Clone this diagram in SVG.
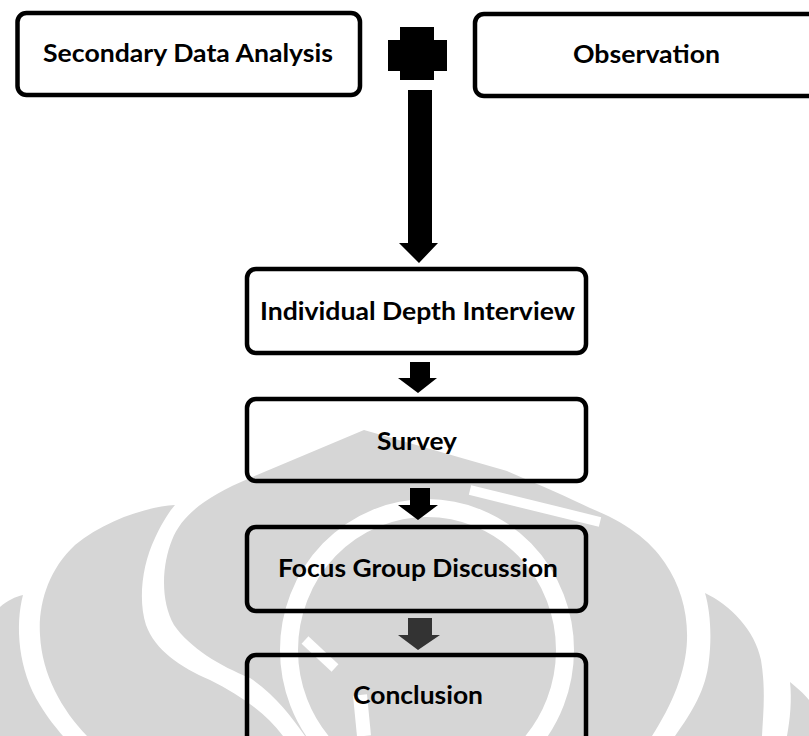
<svg xmlns="http://www.w3.org/2000/svg" width="809" height="736" viewBox="0 0 809 736">
<style>
.wm{fill:#d6d6d6;stroke:none}
.gap{fill:none;stroke:#ffffff}
.box{fill:none;stroke:#000;stroke-width:4.5}
.lbl{font-family:Lato,"Open Sans","Liberation Sans",sans-serif;font-weight:bold;font-size:24px;fill:#000;text-anchor:middle}
.arr{fill:#000}
</style>
<rect width="809" height="736" fill="#fff"/>
<g id="watermark">
<path class="wm" d="M0,607 C8,600 15,597 23,595 C15,625 18,670 40,705 C48,718 56,728 63,736 L0,736 Z"/>
<path class="wm" d="M175,505 C150,506 105,520 75,545 C48,570 38,605 40,635 C42,675 62,710 87,736 L283,736 C265,712 240,695 210,680 C180,667 155,650 146,625 C138,600 142,565 155,538 C161,525 168,513 175,505 Z"/>
<path class="wm" d="M364,430 L507,471 C540,485 570,498 590,508 C625,522 650,540 665,563 C680,585 688,612 687,640 C686,672 672,705 652,736 L305,736 C290,715 275,695 250,678 C220,666 190,648 174,625 C160,600 162,565 172,540 C182,515 205,497 250,478 Z"/>
<path class="wm" d="M705,593 C730,605 755,630 761,660 C766,690 763,715 762,736 L675,736 C692,712 706,690 709,660 C712,635 710,610 705,593 Z"/>
<path class="wm" d="M790,682 C800,690 806,696 809,700 L809,736 L787,736 C790,720 792,700 790,682 Z"/>
<ellipse class="gap" cx="427" cy="650" rx="138" ry="142" stroke-width="18"/>
<path class="gap" d="M470,490 L600,522" stroke-width="10"/>
<path class="gap" d="M360,695 L364,736" stroke-width="14"/>
<path class="gap" d="M305,640 L335,668" stroke-width="10"/>
</g>
<g id="connectors">
<path class="arr" d="M388,40 H400 V27 H434 V40 H447 V71 H434 V80 H400 V71 H388 Z"/>
<path class="arr" d="M408,90 H432 V243 H438 L419,263 L399,243 H408 Z"/>
<path class="arr" d="M410,362 H430 V378 H437 L418,393 L398,378 H410 Z"/>
<path class="arr" d="M410,488 H430 V505 H438 L418,520 L398,505 H410 Z"/>
<path d="M408,618 H432 V635 H440 L418,650 L398,635 H408 Z" fill="#333"/>
</g>
<g id="node-secondary">
<rect class="box" x="17.5" y="13" width="342.5" height="82" rx="9"/>
<text class="lbl" x="188" y="62" textLength="290" lengthAdjust="spacingAndGlyphs">Secondary Data Analysis</text>
</g>
<g id="node-observation">
<rect class="box" x="475" y="14" width="360" height="82" rx="9"/>
<text class="lbl" x="646.5" y="63" textLength="147" lengthAdjust="spacingAndGlyphs">Observation</text>
</g>
<g id="node-idi">
<rect class="box" x="247" y="269" width="339" height="84" rx="9"/>
<text class="lbl" x="417.5" y="320" textLength="315" lengthAdjust="spacingAndGlyphs">Individual Depth Interview</text>
</g>
<g id="node-survey">
<rect class="box" x="247" y="399" width="339" height="82" rx="9"/>
<text class="lbl" x="417" y="450" textLength="80" lengthAdjust="spacingAndGlyphs">Survey</text>
</g>
<g id="node-fgd">
<rect class="box" x="247" y="527" width="339" height="84" rx="9"/>
<text class="lbl" x="418" y="577" textLength="280" lengthAdjust="spacingAndGlyphs">Focus Group Discussion</text>
</g>
<g id="node-conclusion">
<rect class="box" x="247" y="655" width="339" height="110" rx="9"/>
<text class="lbl" x="418" y="704" textLength="130" lengthAdjust="spacingAndGlyphs">Conclusion</text>
</g>
</svg>
